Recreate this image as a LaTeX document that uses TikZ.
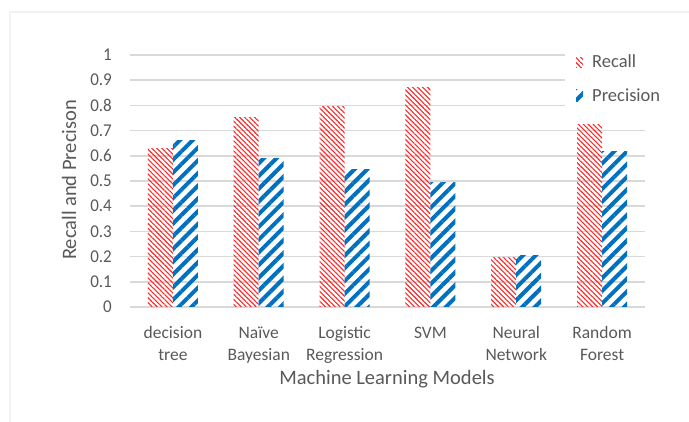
\documentclass[tikz,border=0pt]{standalone}
\usepackage{fontspec}
\setmainfont{Carlito}
\usetikzlibrary{patterns.meta}
\definecolor{recallred}{RGB}{255,40,40}
\definecolor{precblue}{RGB}{0,112,192}
\definecolor{txtgray}{RGB}{89,89,89}
\definecolor{gridgray}{RGB}{217,217,217}
\tikzset{
	recallbar/.style={pattern={Lines[angle=-45,distance=3.5pt,line width=1.1pt]},pattern color=recallred},
	precbar/.style={pattern={Lines[angle=45,distance=9pt,line width=4pt]},pattern color=precblue},
	gridline/.style={draw=gridgray,line width=1.5pt},
	ticklabel/.style={font=\fontsize{17}{20}\selectfont,text=txtgray,anchor=east,inner sep=0pt,yscale=1.06},
	catlabel/.style={font=\fontsize{17.5}{22}\selectfont,text=txtgray,align=center,anchor=north,inner sep=0pt},
	axistitle/.style={font=\fontsize{20.5}{24}\selectfont,text=txtgray,inner sep=0pt},
	legendtext/.style={font=\fontsize{18.5}{22}\selectfont,text=txtgray,anchor=base west,inner sep=0pt}
}
\begin{document}
\begin{tikzpicture}[x=1pt,y=1pt]
	%==Thông số
	\def\xo{130}
	\def\yo{115}
	\def\w{85.83}
	\def\h{252}
	\def\bw{25}
	%==============
	\useasboundingbox (0,0) rectangle (689,422);
	\draw[gray!10,line width=2pt] (689,410)--(9.5,410)--(9.5,0);
	\foreach \k in {0,...,10}{
		\pgfmathsetmacro\xe{\k>7 ? 565 : 645}
		\draw[gridline] (\xo,{\yo+\k*\h/10})--(\xe,{\yo+\k*\h/10});
		\ifnum\k=0 \def\lab{0}\else\ifnum\k=10 \def\lab{1}\else\def\lab{0.\k}\fi\fi
		\node[ticklabel] (tick\k) at (112,{\yo+\k*\h/10}) {\lab};
	}
	\foreach \i/\r/\p in {1/0.63/0.66,2/0.75/0.59,3/0.795/0.545,4/0.872/0.493,5/0.197/0.206,6/0.726/0.619}{
		\path[recallbar] ({\xo+(\i-0.5)*\w-\bw},\yo) rectangle ({\xo+(\i-0.5)*\w},{\yo+\r*\h});
		\path[precbar] ({\xo+(\i-0.5)*\w},\yo) rectangle ({\xo+(\i-0.5)*\w+\bw},{\yo+\p*\h});
	}
	\foreach \i/\t in {1/decision\strut\\tree,2/Naïve\strut\\Bayesian,3/Logistic\strut\\Regression,4/SVM\strut,5/Neural\strut\\Network,6/Random\strut\\Forest}
		\node[catlabel] (cat\i) at ({\xo+(\i-0.5)*\w},99.4) {\t};
	\node[axistitle,anchor=base] (xtitle) at (387,37) {Machine Learning Models};
	\node[axistitle,rotate=90] (ytitle) at (69,242) {Recall and Precison};
	%==Chú thích
	\path[recallbar] (576,354) rectangle (583,364);
	\node[legendtext] (legrecall) at (592,354) {Recall};
	\path[precbar] (576,320) rectangle (583,332);
	\node[legendtext] (legprec) at (592,320) {Precision};
\end{tikzpicture}
\end{document}
